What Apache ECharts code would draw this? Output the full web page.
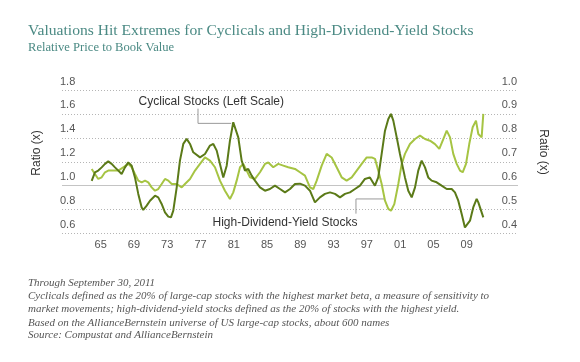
<!DOCTYPE html>
<html><head><meta charset="utf-8">
<script src="https://cdn.jsdelivr.net/npm/echarts@6/dist/echarts.min.js"></script>
<style>html,body{margin:0;padding:0;background:#fff}#c{width:580px;height:362px}</style>
</head><body><div id="c"></div>
<script>
// ---- data (year, value) ----
const cyclical = [
[1963.92,1.04],[1964.31,1.111],[1964.71,1.126],[1965.12,1.153],[1965.52,1.182],[1965.91,1.203],
[1966.32,1.182],[1966.72,1.153],[1967.12,1.126],[1967.52,1.098],[1967.92,1.153],[1968.32,1.195],
[1968.73,1.167],[1969.12,1.069],[1969.52,0.931],[1969.93,0.818],[1970.12,0.797],[1970.53,0.833],
[1970.93,0.874],[1971.53,0.916],[1971.92,0.902],[1972.33,0.847],[1972.73,0.777],[1973.13,0.741],
[1973.45,0.735],[1973.73,0.791],[1974.14,0.986],[1974.53,1.209],[1974.93,1.349],[1975.34,1.391],
[1975.74,1.349],[1976.13,1.279],[1976.34,1.265],[1976.94,1.237],[1977.54,1.265],[1978.14,1.335],
[1978.54,1.349],[1978.95,1.293],[1979.34,1.182],[1979.74,1.069],[1980.15,1.167],[1980.54,1.377],
[1980.94,1.530],[1981.15,1.530],[1981.54,1.404],[1981.95,1.209],[1982.35,1.126],[1982.74,1.140],
[1983.15,1.084],[1983.55,1.042],[1984.15,0.986],[1984.75,0.958],[1985.35,0.972],[1985.95,1.000],
[1986.56,0.972],[1987.16,0.944],[1987.76,0.972],[1988.36,1.014],[1988.96,1.017],[1989.56,1.000],
[1990.16,0.958],[1990.76,0.860],[1991.36,0.902],[1991.96,0.931],[1992.57,0.944],[1993.17,0.931],
[1993.77,0.902],[1994.37,0.931],[1994.97,0.944],[1995.57,0.972],[1996.17,1.000],[1996.77,1.056],
[1997.37,1.069],[1997.97,1.000],[1998.37,1.069],[1998.78,1.265],[1999.18,1.460],[1999.58,1.558],
[1999.90,1.600],[2000.18,1.544],[2000.59,1.404],[2000.98,1.265],[2001.58,1.069],[2001.98,0.958],
[2002.39,0.902],[2002.79,0.986],[2003.18,1.126],[2003.59,1.209],[2003.99,1.153],[2004.38,1.069],
[2004.79,1.042],[2005.39,1.028],[2005.99,1.000],[2006.60,0.972],[2007.20,0.972],[2007.59,0.944],
[2007.99,0.874],[2008.40,0.763],[2008.79,0.651],[2009.00,0.638],[2009.40,0.707],[2009.79,0.818],
[2010.20,0.889],[2010.40,0.860],[2010.60,0.818],[2010.80,0.833],[2011.00,0.735]
];
const highDividend = [
[1963.92,0.670],[1964.31,0.649],[1964.71,0.628],[1965.12,0.635],[1965.52,0.656],[1965.91,0.663],
[1966.51,0.663],[1967.12,0.663],[1967.72,0.677],[1968.32,0.691],[1968.73,0.677],[1969.12,0.649],
[1969.52,0.621],[1969.93,0.614],[1970.33,0.621],[1970.72,0.614],[1971.13,0.593],[1971.53,0.579],
[1971.92,0.586],[1972.33,0.607],[1972.73,0.628],[1973.13,0.621],[1973.54,0.607],[1974.14,0.607],
[1974.74,0.593],[1975.13,0.607],[1975.74,0.628],[1976.34,0.663],[1976.94,0.691],[1977.54,0.718],
[1978.14,0.705],[1978.74,0.677],[1979.34,0.621],[1979.94,0.579],[1980.54,0.544],[1980.94,0.572],
[1981.35,0.621],[1981.75,0.677],[1982.14,0.691],[1982.55,0.663],[1982.95,0.635],[1983.55,0.628],
[1984.15,0.656],[1984.75,0.691],[1985.15,0.697],[1985.75,0.677],[1986.35,0.691],[1986.95,0.684],
[1987.55,0.677],[1988.36,0.670],[1988.96,0.656],[1989.56,0.642],[1990.16,0.593],[1990.56,0.586],
[1990.97,0.621],[1991.57,0.684],[1992.17,0.733],[1992.77,0.718],[1993.37,0.677],[1993.97,0.635],
[1994.57,0.621],[1995.18,0.635],[1995.78,0.663],[1996.38,0.691],[1996.98,0.718],[1997.58,0.718],
[1997.98,0.712],[1998.37,0.663],[1998.78,0.607],[1999.18,0.537],[1999.58,0.503],[1999.90,0.495],
[2000.30,0.523],[2000.78,0.607],[2001.19,0.691],[2001.58,0.733],[2002.18,0.774],[2002.79,0.795],
[2003.39,0.809],[2003.99,0.795],[2004.59,0.788],[2005.19,0.774],[2005.71,0.754],[2006.19,0.795],
[2006.60,0.830],[2007.00,0.802],[2007.39,0.733],[2007.80,0.691],[2008.20,0.663],[2008.52,0.656],
[2008.92,0.691],[2009.31,0.774],[2009.72,0.844],[2010.12,0.872],[2010.40,0.816],[2010.80,0.802],
[2011.00,0.900]
];
const xTickYears = [1965,1969,1973,1977,1981,1985,1989,1993,1997,2001,2005,2009];
const xRange = [1960.35, 2015.17];
const leftScale = [0.6, 1.8, 0.2];
const rightScale = [0.4, 1.0, 0.1];
const titleText = 'Valuations Hit Extremes for Cyclicals and High-Dividend-Yield Stocks';
const subtitleText = 'Relative Price to Book Value';
const notes = [
  'Through September 30, 2011',
  'Cyclicals defined as the 20% of large-cap stocks with the highest market beta, a measure of sensitivity to',
  'market movements; high-dividend-yield stocks defined as the 20% of stocks with the highest yield.',
  'Based on the AllianceBernstein universe of US large-cap stocks, about 600 names',
  'Source: Compustat and AllianceBernstein'
];
// annotations in data coords (left scale)
const cycLabel = {text:'Cyclical Stocks (Left Scale)', at:[1978.3,1.703], leader:[[1976.7,1.644],[1976.7,1.521],[1980.7,1.521]]};
const hdyLabel = {text:'High-Dividend-Yield Stocks', at:[1987.16,0.693], leader:[[1995.69,0.766],[1995.69,0.889],[1999.18,0.889]]};

const DARK = '#5b7a18', LIGHT = '#a6c443';
const SANS = '"Liberation Sans", Arial, sans-serif';
const SERIF = '"Liberation Serif", "Times New Roman", serif';

const chart = echarts.init(document.getElementById('c'), null, {renderer:'canvas'});
const option = {
  animation:false,
  backgroundColor:'#fff',
  grid:{left:62, right:62, top:90, bottom:128.5},
  xAxis:{type:'value', min:xRange[0], max:xRange[1],
    axisLine:{show:false}, axisTick:{show:false}, splitLine:{show:false},
    axisLabel:{customValues:xTickYears, margin:6, color:'#555', fontFamily:SANS, fontSize:11,
      formatter:v=>String(Math.round(v)%100).padStart(2,'0')}},
  yAxis:[
    {type:'value', min:leftScale[0], max:leftScale[1], interval:leftScale[2], position:'left',
     axisLine:{show:false}, axisTick:{show:false},
     splitLine:{show:true, lineStyle:{color:'#b5b5b5', type:[1,2], width:1}},
     axisLabel:{inside:true, margin:-2, color:'#555', fontFamily:SANS, fontSize:11, verticalAlign:'bottom', lineHeight:11, padding:[0,0,3,0],
       formatter:v=>v.toFixed(1)}},
    {type:'value', min:rightScale[0], max:rightScale[1], interval:rightScale[2], position:'right',
     axisLine:{show:false}, axisTick:{show:false}, splitLine:{show:false},
     axisLabel:{inside:true, margin:1, color:'#555', fontFamily:SANS, fontSize:11, verticalAlign:'bottom', lineHeight:11, padding:[0,0,3,0],
       formatter:v=>v.toFixed(1)}}
  ],
  series:[
    {type:'line', name:'High-Dividend-Yield Stocks', yAxisIndex:1, data:highDividend, showSymbol:false, symbol:'none',
     lineStyle:{color:LIGHT, width:2}, z:3},
    {type:'line', name:'Cyclical Stocks', yAxisIndex:0, data:cyclical, showSymbol:false, symbol:'none',
     lineStyle:{color:DARK, width:2}, z:4,
     markLine:{silent:true, symbol:'none', label:{show:false}, lineStyle:{color:'#c4c4c4', type:'solid', width:1},
       data:[{yAxis:1.0}], z:1}}
  ]
};
chart.setOption(option);

function px(p){ return chart.convertToPixel({xAxisIndex:0, yAxisIndex:0}, p); }
const g = [];
g.push({type:'text', x:28, y:31, style:{text:titleText, fill:'#4b8a84', font:'15.6px '+SERIF, textVerticalAlign:'middle'}});
g.push({type:'text', x:28, y:47.5, style:{text:subtitleText, fill:'#4b8a84', font:'12.6px '+SERIF, textVerticalAlign:'middle'}});
const noteY = [282.8, 296.1, 309.4, 322.8, 335.4];
notes.forEach((t,i)=>g.push({type:'text', x:28, y:noteY[i], style:{text:t, fill:'#555', font:'italic 11px '+SERIF, textVerticalAlign:'middle'}}));
g.push({type:'text', x:36.7, y:153, rotation:Math.PI/2, style:{text:'Ratio (x)', fill:'#333', font:'12px '+SANS, textAlign:'center', textVerticalAlign:'middle'}});
g.push({type:'text', x:543, y:152, rotation:-Math.PI/2, style:{text:'Ratio (x)', fill:'#333', font:'12px '+SANS, textAlign:'center', textVerticalAlign:'middle'}});
[cycLabel, hdyLabel].forEach(a=>{
  const c = px(a.at);
  g.push({type:'text', x:c[0], y:c[1], style:{text:a.text, fill:'#333', font:'12px '+SANS, textAlign:'center', textVerticalAlign:'middle'}});
  g.push({type:'polyline', shape:{points:a.leader.map(px)}, style:{stroke:'#999', lineWidth:1, fill:null}});
});
chart.setOption({graphic:g});
</script>
</body></html>
